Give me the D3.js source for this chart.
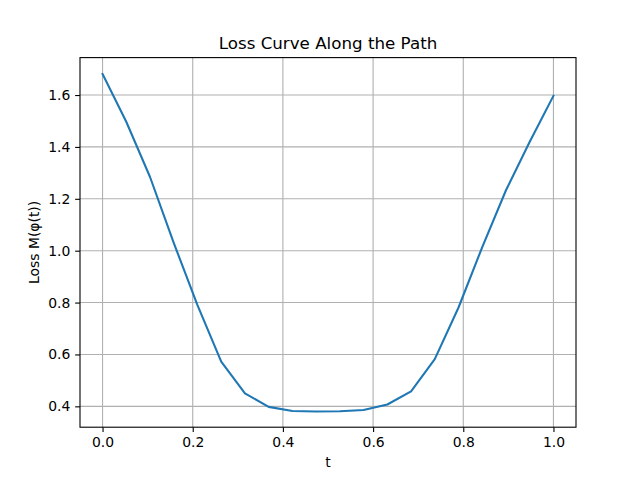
<!DOCTYPE html>
<html><head><meta charset="utf-8">
<script src="https://cdn.jsdelivr.net/npm/d3@7"></script>
<style>body{margin:0;background:#fff}svg{display:block}text{font-family:"DejaVu Sans",sans-serif;fill:#000}</style>
</head><body><svg id="c" width="640" height="480"></svg>
<script>
const tValues = [0.0, 0.0526, 0.1053, 0.1579, 0.2105, 0.2632, 0.3158, 0.3684, 0.4211, 0.4737, 0.5263, 0.5789, 0.6316, 0.6842, 0.7368, 0.7895, 0.8421, 0.8947, 0.9474, 1.0];
const lossValues = [1.681, 1.497, 1.284, 1.030, 0.790, 0.572, 0.450, 0.398, 0.382, 0.380, 0.381, 0.386, 0.407, 0.458, 0.582, 0.781, 1.014, 1.233, 1.420, 1.597];
const xTicks = [0.0, 0.2, 0.4, 0.6, 0.8, 1.0];
const yTicks = [0.4, 0.6, 0.8, 1.0, 1.2, 1.4, 1.6];

const svg = d3.select("#c");
const L = 80, R = 576, T = 57.6, B = 427.2;
const x = d3.scaleLinear().domain([-0.05, 1.05]).range([L, R]);
const y = d3.scaleLinear().domain([0.3196, 1.7443]).range([B, T]);

const g = svg.append("g");
// grid
g.selectAll(".gx").data(xTicks).enter().append("line")
  .attr("x1", d => x(d)).attr("x2", d => x(d)).attr("y1", T).attr("y2", B)
  .attr("stroke", "#b0b0b0").attr("stroke-width", 1.1);
g.selectAll(".gy").data(yTicks).enter().append("line")
  .attr("y1", d => y(d)).attr("y2", d => y(d)).attr("x1", L).attr("x2", R)
  .attr("stroke", "#b0b0b0").attr("stroke-width", 1.1);

// line
const line = d3.line().x((d, i) => x(tValues[i])).y(d => y(d));
g.append("path").datum(lossValues).attr("d", line)
  .attr("fill", "none").attr("stroke", "#1f77b4").attr("stroke-width", 2.08)
  .attr("stroke-linejoin", "round").attr("stroke-linecap", "square");

// axes
const xAxis = d3.axisBottom(x).tickValues(xTicks).tickFormat(d3.format(".1f")).tickSize(4.86).tickPadding(4.86);
const yAxis = d3.axisLeft(y).tickValues(yTicks).tickFormat(d3.format(".1f")).tickSize(4.86).tickPadding(4.86);
const gx = svg.append("g").attr("transform", `translate(0,${B})`).call(xAxis);
const gy = svg.append("g").attr("transform", `translate(${L},0)`).call(yAxis);
[gx, gy].forEach(a => {
  a.select(".domain").remove();
  a.selectAll(".tick line").attr("stroke", "#000").attr("stroke-width", 1.1);
  a.selectAll(".tick text").attr("font-size", "13.9px").attr("font-family", "DejaVu Sans").attr("fill", "#000");
});

// frame
svg.append("rect").attr("x", L).attr("y", T).attr("width", R - L).attr("height", B - T)
  .attr("fill", "none").attr("stroke", "#000").attr("stroke-width", 1.1);

// labels
svg.append("text").attr("x", (L + R) / 2).attr("y", 49.3).attr("text-anchor", "middle")
  .attr("font-size", "16.7px").text("Loss Curve Along the Path");
svg.append("text").attr("x", (L + R) / 2).attr("y", 467).attr("text-anchor", "middle")
  .attr("font-size", "13.9px").text("t");
svg.append("text").attr("transform", `translate(39,${(T + B) / 2}) rotate(-90)`).attr("text-anchor", "middle")
  .attr("font-size", "13.9px").text("Loss M(φ(t))");
</script></body></html>
